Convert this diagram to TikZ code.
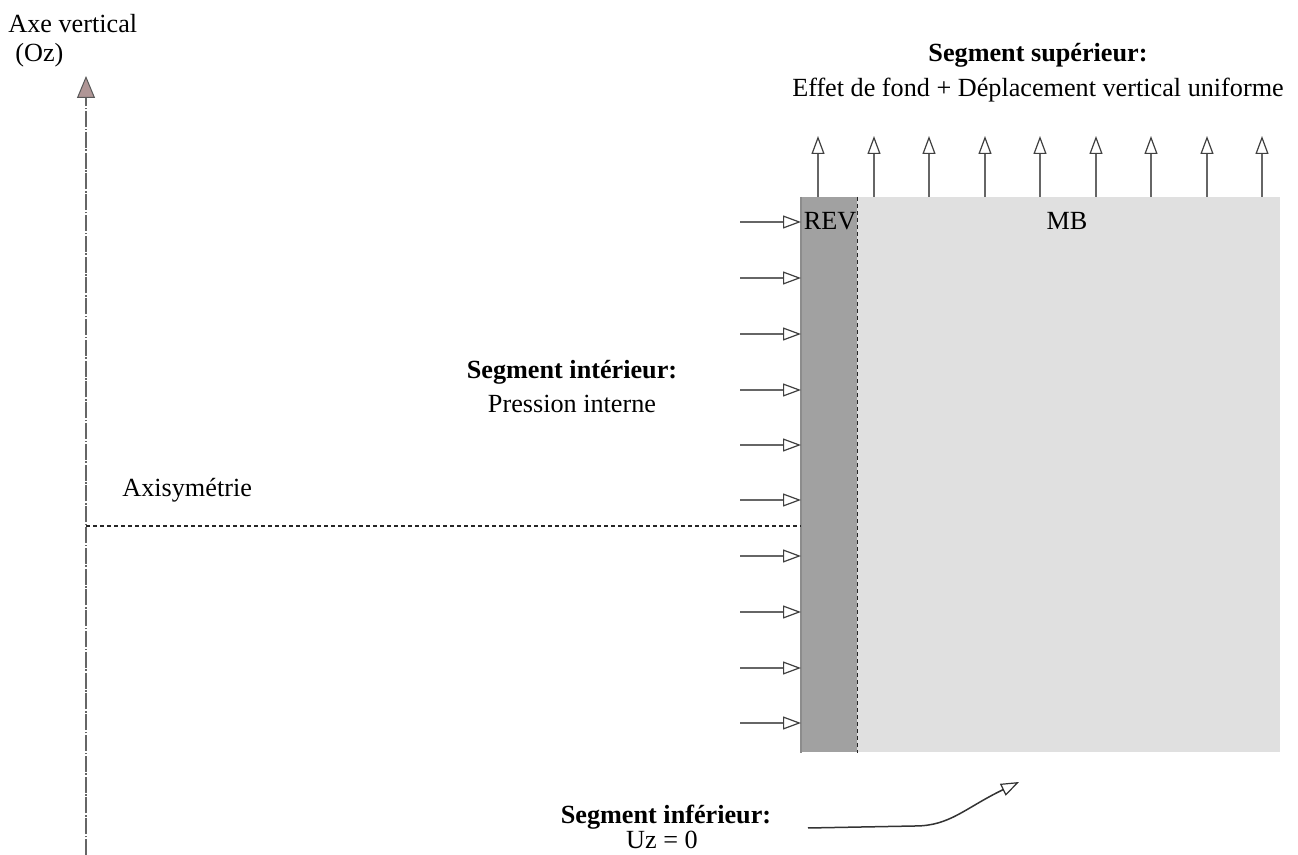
\documentclass[tikz,border=0pt]{standalone}
\usepackage{fontspec}
\setmainfont{Liberation Serif}
\usetikzlibrary{arrows.meta}
\definecolor{tipfill}{RGB}{176,150,150}
\begin{document}
\begin{tikzpicture}[x=0.5pt,y=-0.5pt,
  every node/.style={font=\fontsize{13.1pt}{15pt}\selectfont, inner sep=0pt},
  lbl/.style={anchor=base},
  bld/.style={anchor=base, font=\fontsize{13.1pt}{15pt}\selectfont\bfseries},
  load/.style={draw=black!60, line width=0.75pt, -{Triangle[open, length=9pt, width=6.5pt, line width=0.6pt, color=black!75]}},
  sep/.style={draw=black!85, line width=0.6pt, dash pattern=on 2pt off 1.5pt}]
\useasboundingbox (0,0) rectangle (1298,855);
% regions
\node[fill=black!37, minimum width=28pt, minimum height=277.5pt, anchor=north west] (rev) at (801,197) {};
\node[fill=black!12, minimum width=211.5pt, minimum height=277.5pt, anchor=north west] (mb) at (857,197) {};
\draw[black!45, line width=0.8pt] (rev.north west) -- (rev.south west);
\draw[sep] (rev.north east) -- (rev.south east);
\node[lbl] (revt) at (830,230) {REV};
\node[lbl] (mbt) at (1067,230) {MB};
% axis
\coordinate (ab) at (86,855);
\coordinate (at) at (86,76);
\draw[black!60, line width=1pt, dash pattern=on 8pt off 0.8pt on 0.8pt off 0.8pt,
  -{Triangle[length=11pt, width=9pt, fill=tipfill, color=black!65, line width=0.5pt]}] (ab) -- (at);
\node[anchor=base west] (axe) at (8,33) {Axe vertical};
\node[anchor=base west] (oz) at (15,62) {(Oz)};
% axisymmetry line
\coordinate (s1) at (86,526);
\coordinate (s2) at (801,526);
\draw[sep] (s1) -- (s2);
\node[anchor=base west] (axi) at (122,497) {Axisymétrie};
% top loads
\foreach \x in {818,874,929,985,1040,1096,1151,1207,1262}{
  \coordinate (tb\x) at (\x,197);
  \coordinate (tt\x) at (\x,136);
  \draw[load] (tb\x) -- (tt\x);
}
% left loads
\foreach \y in {222,278,334,390,445,500,556,612,668,723}{
  \coordinate (ls\y) at (740,\y);
  \coordinate (le\y) at (801,\y);
  \draw[load] (ls\y) -- (le\y);
}
% labels
\node[bld] (sup) at (1038,62) {Segment supérieur:};
\node[lbl] (supd) at (1038,97) {Effet de fond + Déplacement vertical uniforme};
\node[bld] (int) at (572,379) {Segment intérieur:};
\node[lbl] (intd) at (572,413) {Pression interne};
\node[bld] (inf) at (666,824) {Segment inférieur:};
\node[lbl] (infd) at (662,849) {Uz = 0};
% bottom pointer
\coordinate (p1) at (808,828);
\coordinate (p2) at (1019,782);
\draw[black!80, line width=0.75pt, -{Triangle[open, length=9pt, width=6.5pt, line width=0.6pt]}]
  (p1) -- (915,826) .. controls (950,826) and (965,808) .. (p2);
\end{tikzpicture}
\end{document}
